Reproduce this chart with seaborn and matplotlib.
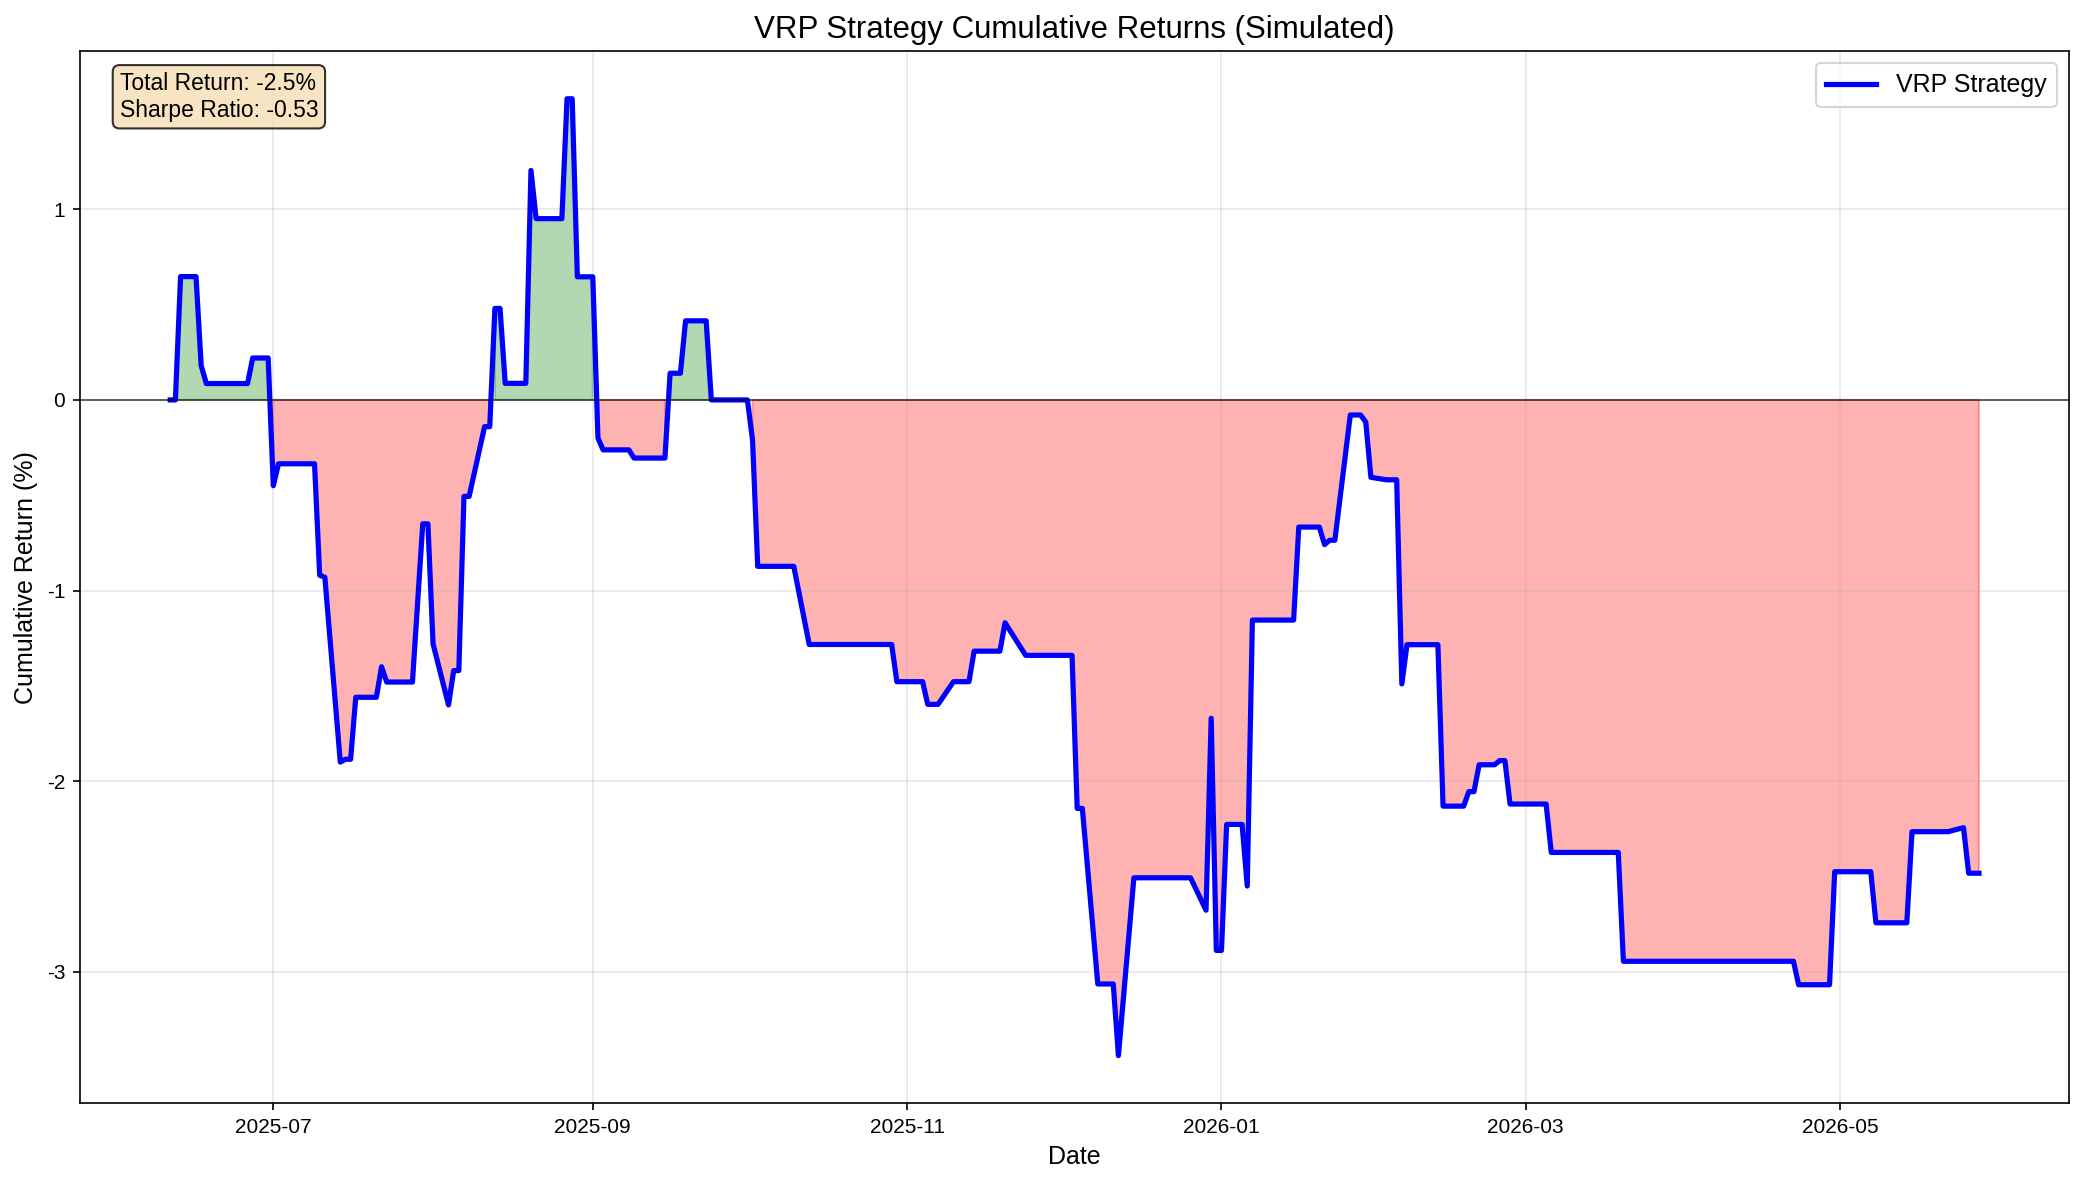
import pandas as pd
import matplotlib
matplotlib.use("Agg")
import matplotlib.pyplot as plt
import seaborn as sns

# cumulative return of the simulated VRP strategy (%)
dates = [
    "2025-06-11", "2025-06-12", "2025-06-13", "2025-06-16", "2025-06-17", "2025-06-18",
    "2025-06-26", "2025-06-27", "2025-06-30", "2025-07-01", "2025-07-02", "2025-07-09",
    "2025-07-10", "2025-07-11", "2025-07-14", "2025-07-15", "2025-07-16", "2025-07-17",
    "2025-07-21", "2025-07-22", "2025-07-23", "2025-07-28", "2025-07-30", "2025-07-31",
    "2025-08-01", "2025-08-04", "2025-08-05", "2025-08-06", "2025-08-07", "2025-08-08",
    "2025-08-11", "2025-08-12", "2025-08-13", "2025-08-14", "2025-08-15", "2025-08-19",
    "2025-08-20", "2025-08-21", "2025-08-26", "2025-08-27", "2025-08-28", "2025-08-29",
    "2025-09-01", "2025-09-02", "2025-09-03", "2025-09-08", "2025-09-09", "2025-09-15",
    "2025-09-16", "2025-09-18", "2025-09-19", "2025-09-23", "2025-09-24", "2025-10-01",
    "2025-10-02", "2025-10-03", "2025-10-10", "2025-10-13", "2025-10-29", "2025-10-30",
    "2025-11-04", "2025-11-05", "2025-11-07", "2025-11-10", "2025-11-13", "2025-11-14",
    "2025-11-19", "2025-11-20", "2025-11-24", "2025-12-03", "2025-12-04", "2025-12-05",
    "2025-12-08", "2025-12-11", "2025-12-12", "2025-12-15", "2025-12-26", "2025-12-29",
    "2025-12-30", "2025-12-31", "2026-01-01", "2026-01-02", "2026-01-05", "2026-01-06",
    "2026-01-07", "2026-01-15", "2026-01-16", "2026-01-20", "2026-01-21", "2026-01-22",
    "2026-01-23", "2026-01-26", "2026-01-28", "2026-01-29", "2026-01-30", "2026-02-02",
    "2026-02-04", "2026-02-05", "2026-02-06", "2026-02-12", "2026-02-13", "2026-02-17",
    "2026-02-18", "2026-02-19", "2026-02-20", "2026-02-23", "2026-02-24", "2026-02-25",
    "2026-02-26", "2026-03-05", "2026-03-06", "2026-03-19", "2026-03-20", "2026-04-22",
    "2026-04-23", "2026-04-29", "2026-04-30", "2026-05-07", "2026-05-08", "2026-05-14",
    "2026-05-15", "2026-05-22", "2026-05-25", "2026-05-26", "2026-05-28",
]
cum_return = [
    0.0, 0.0, 0.647, 0.647, 0.18, 0.086,
    0.086, 0.22, 0.22, -0.45, -0.335, -0.335,
    -0.92, -0.93, -1.90, -1.885, -1.885, -1.56,
    -1.56, -1.40, -1.48, -1.48, -0.65, -0.65,
    -1.28, -1.60, -1.42, -1.42, -0.506, -0.506,
    -0.14, -0.14, 0.48, 0.48, 0.087, 0.087,
    1.204, 0.951, 0.951, 1.58, 1.58, 0.646,
    0.646, -0.20, -0.262, -0.262, -0.305, -0.305,
    0.14, 0.14, 0.415, 0.415, 0.0, 0.0,
    -0.21, -0.873, -0.873, -1.283, -1.283, -1.478,
    -1.478, -1.597, -1.597, -1.478, -1.478, -1.318,
    -1.318, -1.169, -1.34, -1.34, -2.143, -2.143,
    -3.064, -3.064, -3.44, -2.507, -2.507, -2.677,
    -1.67, -2.888, -2.888, -2.227, -2.227, -2.55,
    -1.155, -1.155, -0.667, -0.667, -0.759, -0.736,
    -0.736, -0.079, -0.079, -0.116, -0.406, -0.419,
    -0.419, -1.49, -1.284, -1.284, -2.131, -2.131,
    -2.055, -2.055, -1.914, -1.914, -1.892, -1.892,
    -2.12, -2.12, -2.374, -2.374, -2.945, -2.945,
    -3.068, -3.068, -2.475, -2.475, -2.743, -2.743,
    -2.265, -2.265, -2.244, -2.483, -2.483,
]
total_return = -2.5
sharpe = -0.53

df = pd.DataFrame({"Date": pd.to_datetime(dates), "Cumulative Return": cum_return})

plt.rcParams["font.family"] = ["Liberation Sans", "DejaVu Sans"]
plt.rcParams["axes.unicode_minus"] = False

fig, ax = plt.subplots(figsize=(2084 / 150, 1184 / 150), dpi=150)
fig.subplots_adjust(left=0.0383, right=0.993, top=0.957, bottom=0.068)

sns.lineplot(data=df, x="Date", y="Cumulative Return", ax=ax, color="blue",
             linewidth=2.5, label="VRP Strategy")
ax.fill_between(df["Date"], 0, df["Cumulative Return"],
                where=df["Cumulative Return"] >= 0, color="green", alpha=0.3)
ax.fill_between(df["Date"], 0, df["Cumulative Return"],
                where=df["Cumulative Return"] < 0, color="red", alpha=0.3)
ax.axhline(0, color="black", linewidth=0.8, alpha=0.7)

ax.set_title("VRP Strategy Cumulative Returns (Simulated)", fontsize=15)
ax.set_xlabel("Date", fontsize=12)
ax.set_ylabel("Cumulative Return (%)", fontsize=12)
ax.grid(True, alpha=0.3)
ax.legend(loc="upper right", fontsize=12)

ax.text(0.02, 0.98, f"Total Return: {total_return:.1f}%\nSharpe Ratio: {sharpe:.2f}",
        transform=ax.transAxes, va="top", fontsize=11,
        bbox=dict(boxstyle="round", facecolor="wheat", alpha=0.8))

plt.savefig("out.png", dpi=150)
plt.close()
